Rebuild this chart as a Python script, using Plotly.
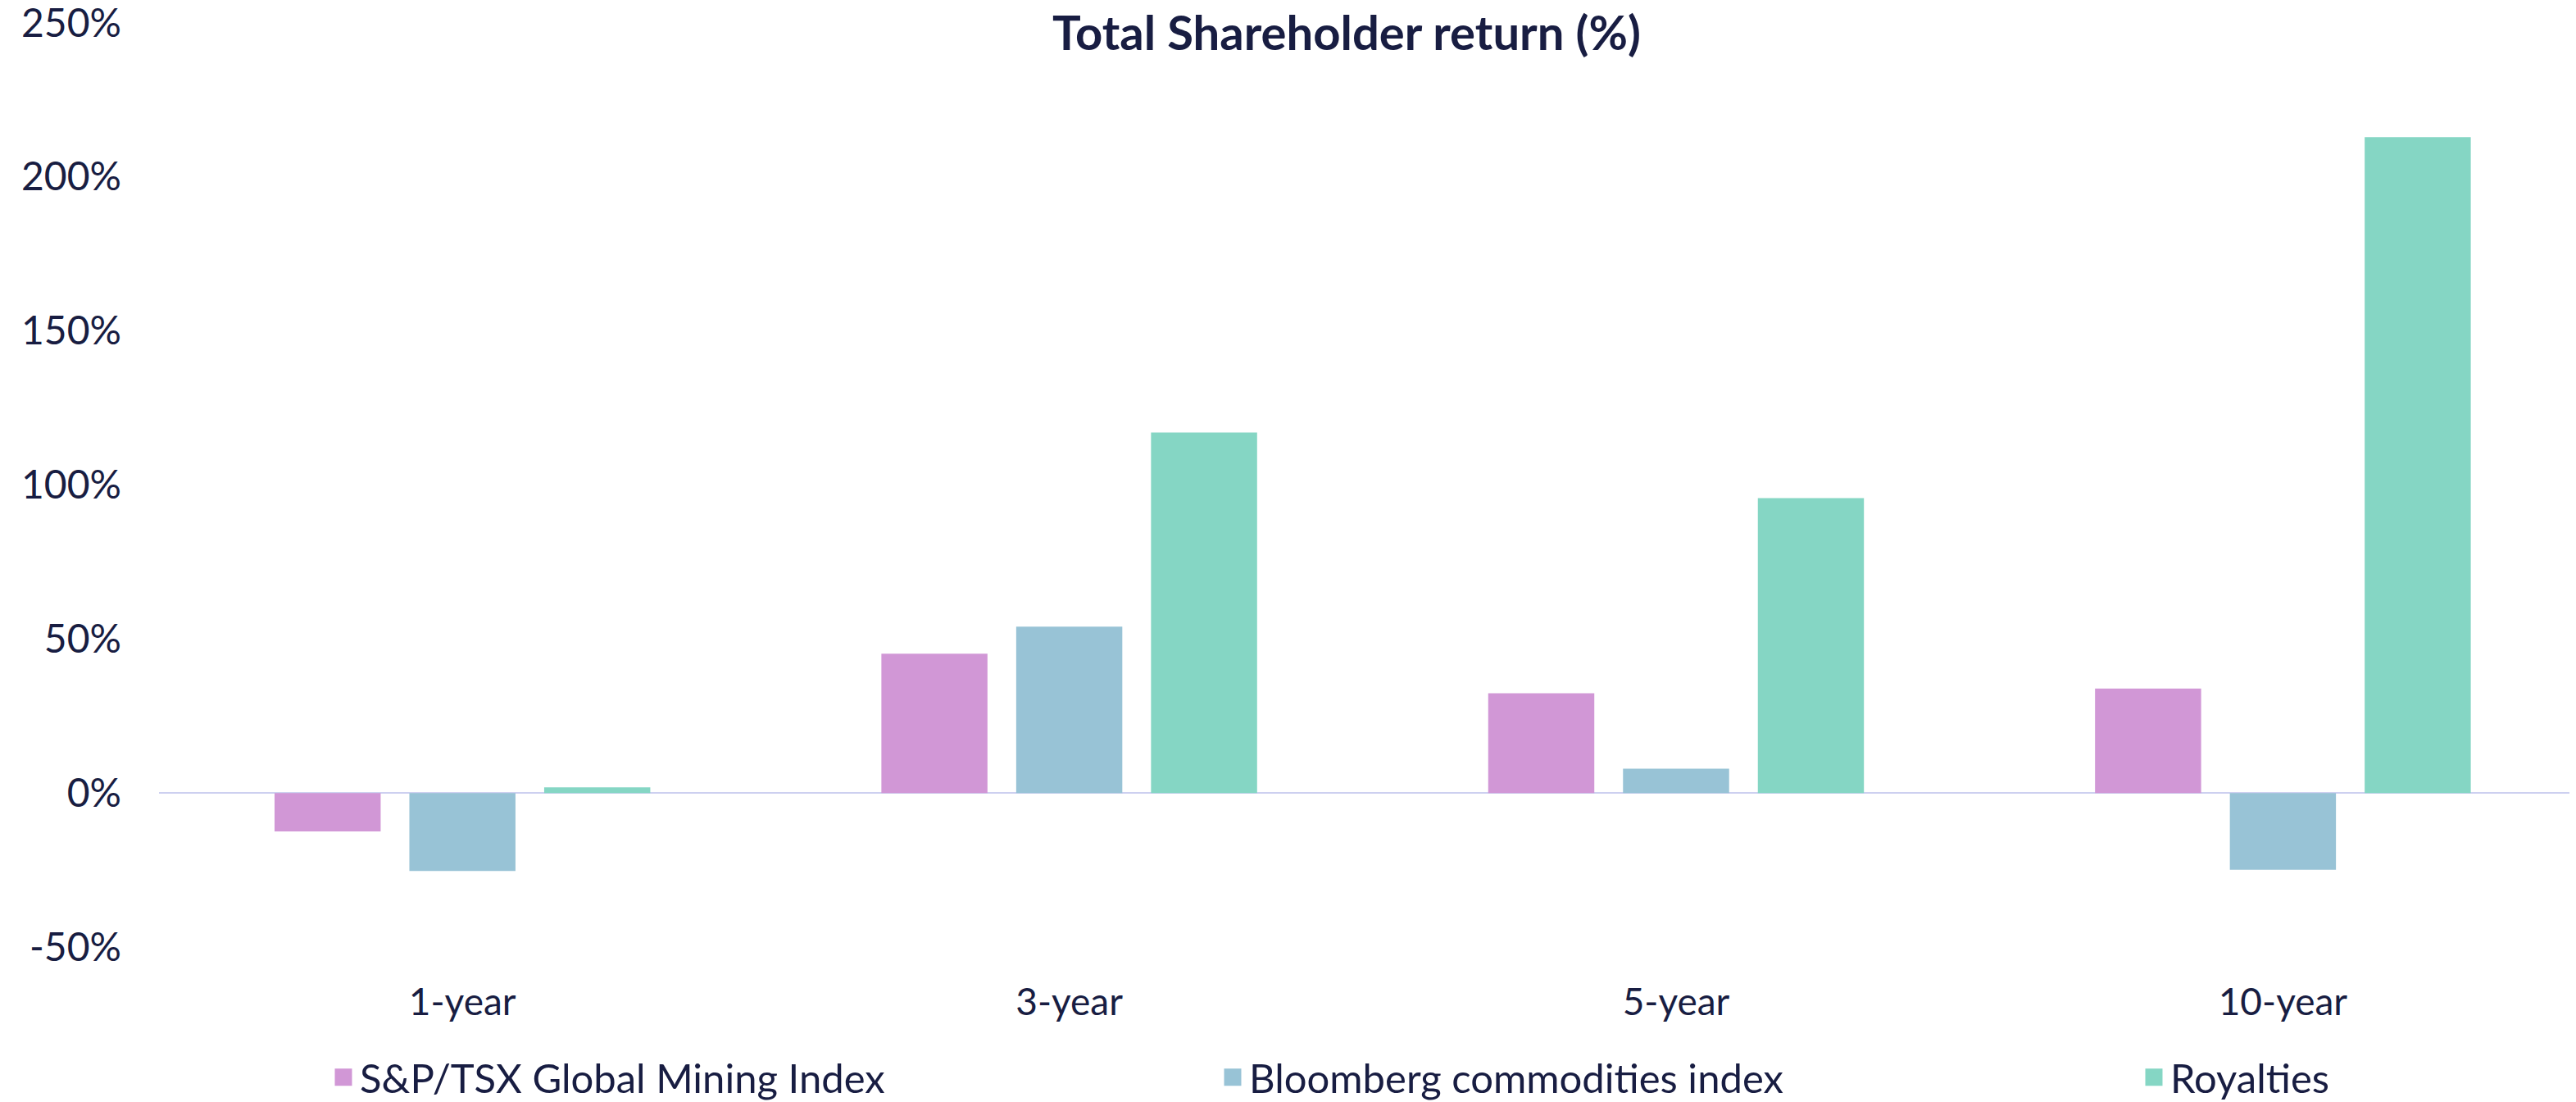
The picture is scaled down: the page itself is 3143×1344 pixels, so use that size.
import plotly.graph_objects as go

# periods on the x axis
periods = ["1-year", "3-year", "5-year", "10-year"]

# total shareholder return (%) per series
sp_tsx_mining = [-12.5, 45.2, 32.4, 33.9]
bloomberg_comm = [-25.3, 54.0, 7.9, -24.9]
royalties = [1.8, 117.0, 95.7, 212.9]

series_names = ["S&P/TSX Global Mining Index", "Bloomberg commodities index", "Royalties"]
series_colors = ["#D197D6", "#98C3D6", "#85D6C4"]

y_ticks = [-50, 0, 50, 100, 150, 200, 250]
y_ticklabels = ["-50%", "0%", "50%", "100%", "150%", "200%", "250%"]

TEXT = "#181D42"
FONT = "Lato"

# the page body adds an 8px margin around the figure
W, H = 3143 - 8, 1344 - 8

# one legend per series so each entry sits where the original puts it
legend_ids = ["legend", "legend2", "legend3"]
legend_x = [391, 1476, 2600]

fig = go.Figure()
for name, vals, col, lg in zip(series_names, [sp_tsx_mining, bloomberg_comm, royalties],
                               series_colors, legend_ids):
    fig.add_trace(go.Bar(
        name=name,
        x=periods,
        y=vals,
        marker=dict(color=col, line=dict(width=0)),
        showlegend=False,
        legendgroup=name,
    ))
    # legend-only entry with a bigger square swatch
    fig.add_trace(go.Scatter(
        name=name,
        x=[None],
        y=[None],
        mode="markers",
        marker=dict(symbol="square", size=26, color=col, line=dict(color=col, width=5)),
        legendgroup=name,
        legend=lg,
        hoverinfo="skip",
    ))

legend_common = dict(
    orientation="h",
    xref="container",
    yref="container",
    xanchor="left",
    y=1 - 1306 / H,
    yanchor="middle",
    itemsizing="trace",
    font=dict(family=FONT, size=49, color=TEXT),
    bgcolor="rgba(0,0,0,0)",
)

fig.update_layout(
    width=W,
    height=H,
    template="none",
    barmode="group",
    bargap=0.3335,
    bargroupgap=0.213,
    plot_bgcolor="white",
    paper_bgcolor="white",
    margin=dict(l=186, r=0, t=19, b=189, autoexpand=False),
    font=dict(family=FONT, size=46, color=TEXT),
    title=dict(
        text="Total Shareholder return (%)",
        font=dict(family=FONT, size=58, color=TEXT, weight=700),
        x=1635 / W,
        xref="container",
        xanchor="center",
        y=1 - 33 / H,
        yref="container",
        yanchor="middle",
    ),
    legend=dict(legend_common, x=legend_x[0] / W),
    legend2=dict(legend_common, x=legend_x[1] / W),
    legend3=dict(legend_common, x=legend_x[2] / W),
    showlegend=True,
)

fig.update_xaxes(
    range=[-0.5, 3.483],
    automargin=False,
    showgrid=False,
    showline=False,
    zeroline=False,
    ticks="",
    ticklabelstandoff=36,
    tickfont=dict(family=FONT, size=46, color=TEXT),
)
fig.update_yaxes(
    range=[-50, 250.2],
    automargin=False,
    tickvals=y_ticks,
    ticktext=y_ticklabels,
    ticklabeloverflow="allow",
    showgrid=False,
    zeroline=True,
    zerolinecolor="#CDD0F0",
    zerolinewidth=2,
    showline=False,
    ticks="",
    ticklabelstandoff=45,
    tickfont=dict(family=FONT, size=48, color=TEXT),
)

fig.write_html("out.html")
